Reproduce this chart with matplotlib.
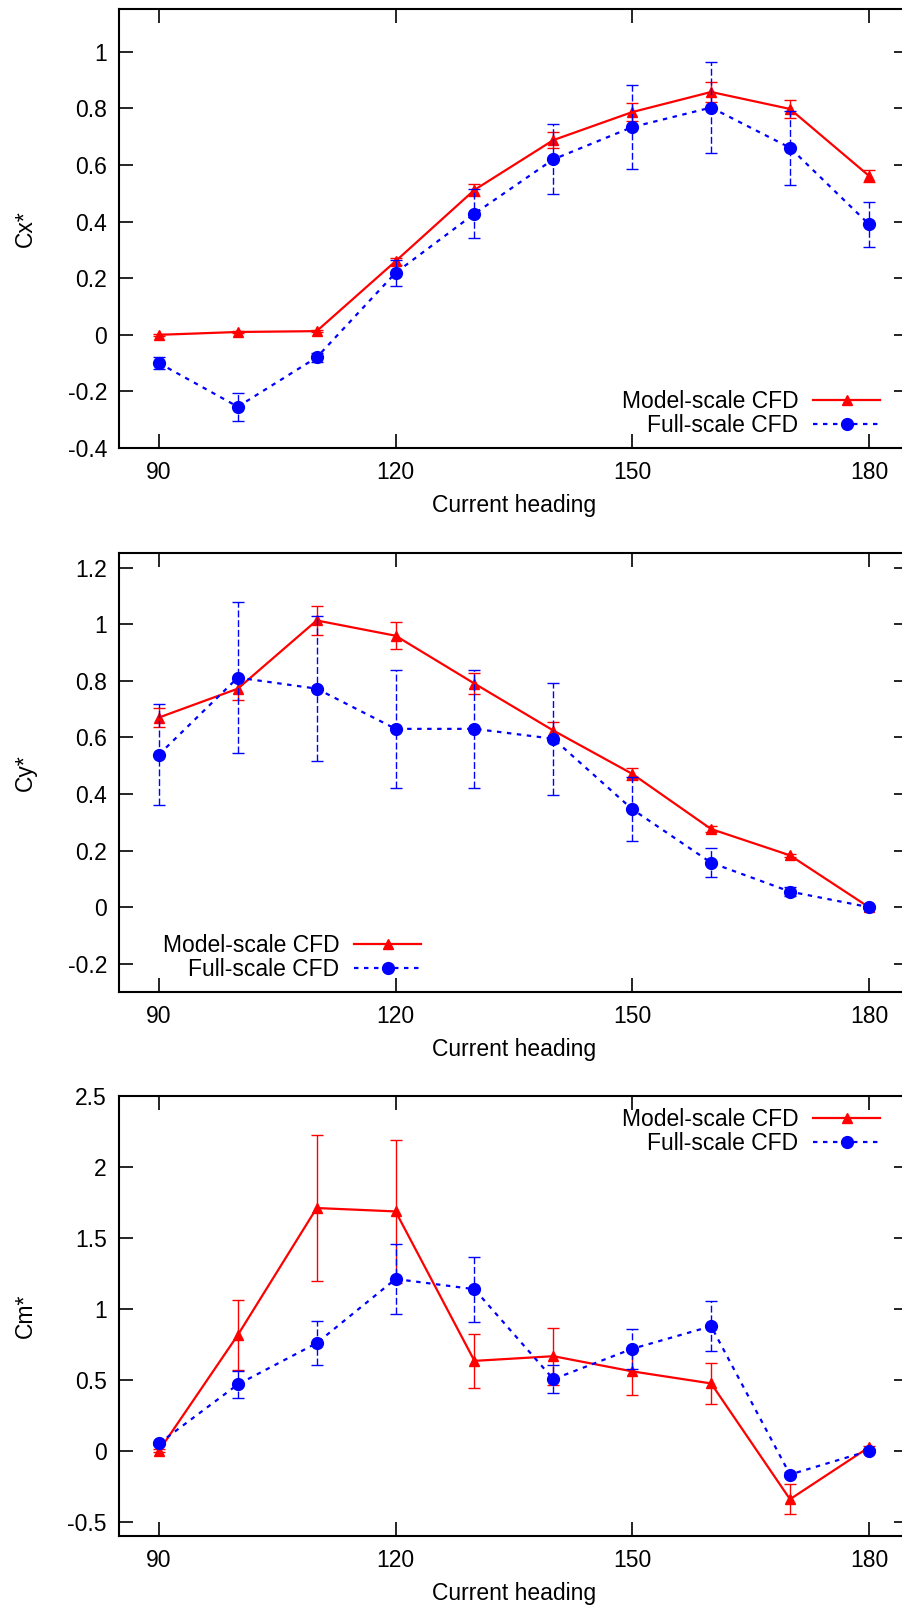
import matplotlib
matplotlib.use('Agg')
import matplotlib.pyplot as plt

plt.rcParams['font.family'] = ['Liberation Sans', 'DejaVu Sans']

heading = [90, 100, 110, 120, 130, 140, 150, 160, 170, 180]

# Cx*
cx_model = [0.0, 0.01, 0.013, 0.26, 0.512, 0.688, 0.787, 0.858, 0.798, 0.562]
cx_model_err = [0.004, 0.004, 0.004, 0.012, 0.02, 0.027, 0.031, 0.034, 0.032, 0.021]
cx_full = [-0.1, -0.254, -0.08, 0.219, 0.428, 0.62, 0.734, 0.803, 0.661, 0.391]
cx_full_err = [0.021, 0.05, 0.015, 0.045, 0.086, 0.124, 0.148, 0.161, 0.131, 0.079]

# Cy*
cy_model = [0.67, 0.772, 1.013, 0.959, 0.79, 0.624, 0.471, 0.276, 0.183, 0.0]
cy_model_err = [0.035, 0.04, 0.05, 0.048, 0.038, 0.03, 0.022, 0.012, 0.005, 0.003]
cy_full = [0.539, 0.811, 0.772, 0.63, 0.63, 0.595, 0.346, 0.157, 0.055, 0.0]
cy_full_err = [0.179, 0.268, 0.255, 0.209, 0.209, 0.197, 0.113, 0.052, 0.015, 0.003]

# Cm*
cm_model = [0.0, 0.816, 1.711, 1.687, 0.634, 0.667, 0.56, 0.475, -0.341, 0.025]
cm_model_err = [0.01, 0.244, 0.513, 0.505, 0.19, 0.2, 0.168, 0.142, 0.105, 0.01]
cm_full = [0.052, 0.468, 0.759, 1.211, 1.139, 0.505, 0.719, 0.878, -0.167, 0.0]
cm_full_err = [0.01, 0.097, 0.153, 0.245, 0.23, 0.1, 0.142, 0.176, 0.02, 0.01]

FS = 16.5
RED = '#ff0000'
BLUE = '#0000ff'


def draw_panel(ax, model, model_err, full, full_err, ylabel, ylim, yticks, leg_loc, leg_anchor):
    ax.errorbar(heading, model, yerr=model_err, fmt='none', ecolor=RED,
                elinewidth=1.0, capsize=4, capthick=1.0)
    ax.plot(heading, model, '-', color=RED, lw=1.6, marker='^', ms=7.5,
            label='Model-scale CFD')
    eb = ax.errorbar(heading, full, yerr=full_err, fmt='none', ecolor=BLUE,
                     elinewidth=1.0, capsize=4, capthick=1.0)
    for c in eb[2]:
        c.set_linestyle((0, (5, 2)))
    ax.plot(heading, full, color=BLUE, lw=1.6, ls=(0, (2, 2.5)), marker='o', ms=8.5,
            label='Full-scale CFD')

    ax.set_xlim(85, 185)
    ax.set_ylim(*ylim)
    ax.set_xticks([90, 120, 150, 180])
    ax.set_yticks(yticks)
    ax.set_yticklabels(['{:g}'.format(t) for t in yticks])
    ax.tick_params(direction='in', length=10, width=1.2, top=True, right=True,
                   labelsize=FS, pad=9)
    for s in ax.spines.values():
        s.set_linewidth(1.5)
    ax.set_xlabel('Current heading', fontsize=FS)
    ax.set_ylabel(ylabel, fontsize=FS)
    ax.xaxis.set_label_coords(0.5, -0.105)
    ax.yaxis.set_label_coords(-0.105, 0.5)
    ax.legend(loc=leg_loc, bbox_to_anchor=leg_anchor, frameon=False, markerfirst=False,
              numpoints=1, fontsize=FS, handlelength=2.9, handletextpad=0.65,
              labelspacing=0.05, borderpad=0, borderaxespad=0)


fig = plt.figure(figsize=(9.03, 16.11), dpi=100)
left, width, height = 0.1323, 0.8736, 0.2723
ax1 = fig.add_axes([left, 0.7219, width, height])
ax2 = fig.add_axes([left, 0.3842, width, height])
ax3 = fig.add_axes([left, 0.04655, width, 0.2731])

draw_panel(ax1, cx_model, cx_model_err, cx_full, cx_full_err, 'Cx*', (-0.4, 1.15),
           [-0.4, -0.2, 0, 0.2, 0.4, 0.6, 0.8, 1], 'lower right', (0.964, 0.025))
draw_panel(ax2, cy_model, cy_model_err, cy_full, cy_full_err, 'Cy*', (-0.3, 1.25),
           [-0.2, 0, 0.2, 0.4, 0.6, 0.8, 1, 1.2], 'lower left', (0.055, 0.025))
draw_panel(ax3, cm_model, cm_model_err, cm_full, cm_full_err, 'Cm*', (-0.6, 2.5),
           [-0.5, 0, 0.5, 1, 1.5, 2, 2.5], 'upper right', (0.964, 0.973))

fig.savefig('out.png', dpi=100)
